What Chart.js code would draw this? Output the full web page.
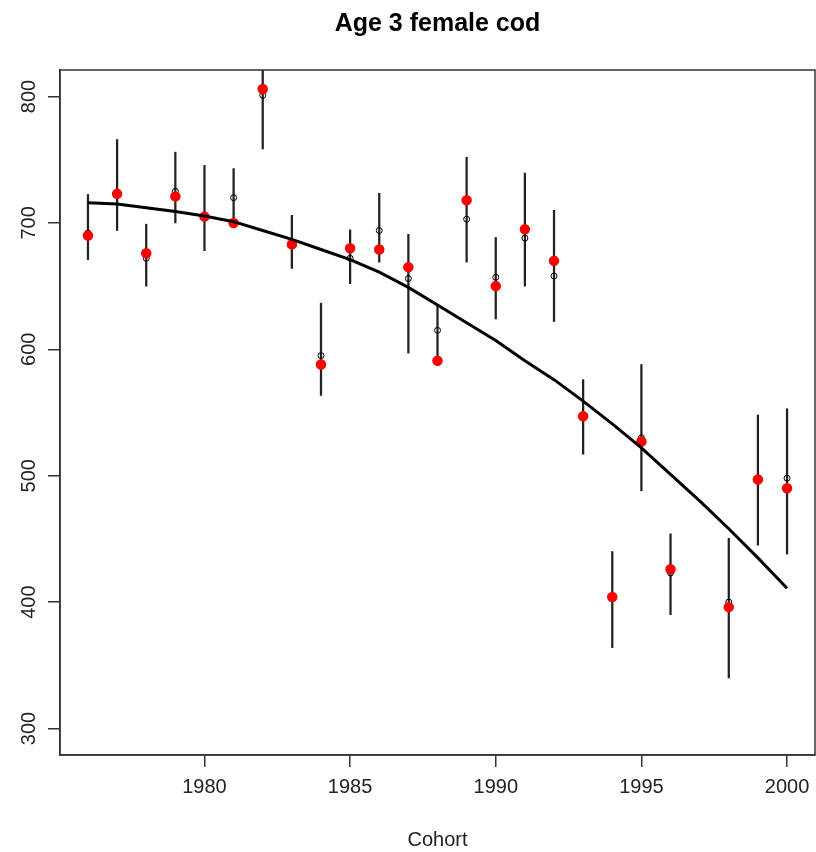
<!DOCTYPE html>
<html>
<head>
<meta charset="utf-8">
<script src="https://cdn.jsdelivr.net/npm/chart.js@4/dist/chart.umd.min.js"></script>
<style>
  body { margin: 0; background: #fff; }
  canvas { display: block; }
</style>
</head>
<body>
<canvas id="myChart" width="816" height="852"></canvas>
<script>
// cohorts with an estimate (1997 has none)
const years = [1976, 1977, 1978, 1979, 1980, 1981, 1982, 1983, 1984, 1985, 1986, 1987,
  1988, 1989, 1990, 1991, 1992, 1993, 1994, 1995, 1996, 1998, 1999, 2000];
// red filled points
const redVals = [690, 723, 676, 721, 705, 700, 806, 683, 588, 680, 679, 665,
  591, 718, 650, 695, 670, 547, 404, 527, 426, 396, 497, 490];
// small open points
const openVals = [692, 723, 672, 725, 705, 720, 801, 684, 595, 672, 694, 656,
  615, 703, 657, 688, 658, 548, 404, 530, 423, 400, 497, 498];
// vertical bars
const barLow = [671, 694, 650, 700, 678, 697, 758.5, 664, 563.5, 652, 669, 597,
  594, 669, 624, 650, 622, 517, 364, 488, 390, 340, 445, 438];
const barHigh = [722.5, 766, 699, 756, 745.5, 743, 855, 706, 636.5, 694.5, 723.5, 691,
  635, 752, 688.5, 739.5, 710, 576, 440, 588, 454, 450.5, 548, 553];

// fitted curve, one value per year
const curveYears = [1976, 1977, 1978, 1979, 1980, 1981, 1982, 1983, 1984, 1985, 1986, 1987, 1988,
  1989, 1990, 1991, 1992, 1993, 1994, 1995, 1996, 1997, 1998, 1999, 2000];
const curveVals = [716, 715, 712, 709, 705.5, 701, 694, 687, 679, 671, 661, 649, 635,
  621, 607, 591, 576, 559, 541, 522, 501, 480, 458, 435, 411];

const xTicks = [1980, 1985, 1990, 1995, 2000];
const yTicks = [300, 400, 500, 600, 700, 800];

const fontFam = '"Liberation Sans", Arial, sans-serif';

const boxPlugin = {
  id: 'box',
  afterDatasetsDraw(chart) {
    const a = chart.chartArea;
    const ctx = chart.ctx;
    ctx.save();
    ctx.strokeStyle = '#333';
    ctx.lineWidth = 1.5;
    ctx.strokeRect(a.left, a.top, a.right - a.left, a.bottom - a.top);
    ctx.restore();
  }
};

const data = {
  datasets: [
    {
      type: 'line',
      data: curveYears.map((x, i) => ({x: x, y: curveVals[i]})),
      borderColor: '#000',
      borderWidth: 3,
      pointRadius: 0,
      tension: 0,
      fill: false,
      order: 0
    },
    {
      type: 'scatter',
      data: years.map((x, i) => ({x: x, y: redVals[i]})),
      backgroundColor: '#ff0000',
      borderColor: '#ff0000',
      pointRadius: 4.5,
      borderWidth: 1.5,
      order: 1
    },
    {
      type: 'scatter',
      data: years.map((x, i) => ({x: x, y: openVals[i]})),
      backgroundColor: 'rgba(0,0,0,0)',
      borderColor: '#000',
      pointRadius: 3,
      borderWidth: 1,
      order: 2
    },
    {
      type: 'bar',
      data: years.map((x, i) => ({x: x, y: [barLow[i], barHigh[i]]})),
      backgroundColor: '#222',
      borderWidth: 0,
      barThickness: 1.6,
      grouped: false,
      clip: 0,
      order: 3
    }
  ]
};

const config = {
  type: 'scatter',
  data: data,
  options: {
    responsive: false,
    animation: false,
    layout: { autoPadding: false, padding: { top: 0, right: 1, bottom: 0, left: 0 } },
    plugins: {
      legend: { display: false },
      tooltip: { enabled: false },
      title: {
        display: true,
        text: 'Age 3 female cod',
        fullSize: false,
        color: '#000',
        font: { family: fontFam, size: 25, weight: 'bold' },
        padding: { top: 9, bottom: 31 }
      }
    },
    scales: {
      x: {
        type: 'linear',
        min: 1975.04,
        max: 2000.96,
        offset: false,
        afterBuildTicks: (s) => { s.ticks = xTicks.map(v => ({value: v})); },
        afterFit: (s) => { s.height = 97; s.paddingLeft = 0; s.paddingRight = 0; },
        grid: { offset: false, drawOnChartArea: false, drawTicks: true, tickLength: 12, color: '#333', lineWidth: 1.5 },
        border: { display: true, color: '#333', width: 1.5 },
        ticks: {
          color: '#222',
          padding: 8,
          maxRotation: 0,
          font: { family: fontFam, size: 20 },
          callback: (v) => String(v)
        },
        title: {
          display: true,
          text: 'Cohort',
          color: '#222',
          font: { family: fontFam, size: 20 },
          padding: { top: 0, bottom: 0 }
        }
      },
      y: {
        type: 'linear',
        min: 279,
        max: 821,
        afterBuildTicks: (s) => { s.ticks = yTicks.map(v => ({value: v})); },
        afterFit: (s) => { s.width = 60; s.paddingTop = 0; s.paddingBottom = 0; },
        grid: { offset: false, drawOnChartArea: false, drawTicks: true, tickLength: 12, color: '#333', lineWidth: 1.5 },
        border: { display: true, color: '#333', width: 1.5 },
        ticks: {
          color: '#222',
          padding: 2,
          minRotation: 90,
          maxRotation: 90,
          crossAlign: 'center',
          font: { family: fontFam, size: 20 },
          callback: (v) => String(v)
        }
      }
    }
  },
  plugins: [boxPlugin]
};

const myChart = new Chart(document.getElementById('myChart'), config);
</script>
</body>
</html>
